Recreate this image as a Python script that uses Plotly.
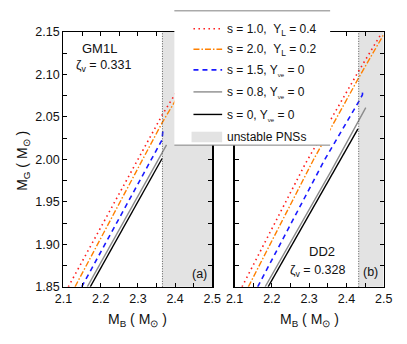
import plotly.graph_objects as go

W, H = 407, 344

# ---------------- data (M_B, M_G in solar masses) ----------------
# panel (a): GM1L
gm1l_s10_mb = [2.113, 2.288, 2.365, 2.440]
gm1l_s10_mg = [1.850, 1.990, 2.052, 2.105]
gm1l_s20_mb = [2.131, 2.365, 2.440]
gm1l_s20_mg = [1.850, 2.043, 2.098]
gm1l_s15_mb = [2.149, 2.365, 2.367]
gm1l_s15_mg = [1.850, 2.023, 2.033]
gm1l_s08_mb = [2.164, 2.377]
gm1l_s08_mg = [1.850, 2.017]
gm1l_s00_mb = [2.172, 2.365]
gm1l_s00_mg = [1.850, 2.001]
gm1l_unstable = [2.366, 2.5]

# panel (b): DD2
dd2_s10_mb = [2.120, 2.290, 2.433, 2.495]
dd2_s10_mg = [1.850, 1.995, 2.104, 2.149]
dd2_s20_mb = [2.137, 2.311, 2.433, 2.500]
dd2_s20_mg = [1.850, 1.999, 2.096, 2.147]
dd2_s15_mb = [2.162, 2.341, 2.433, 2.443, 2.444]
dd2_s15_mg = [1.850, 1.999, 2.068, 2.076, 2.083]
dd2_s08_mb = [2.182, 2.360, 2.452]
dd2_s08_mg = [1.850, 1.987, 2.061]
dd2_s00_mb = [2.190, 2.431]
dd2_s00_mg = [1.850, 2.036]
dd2_unstable = [2.433, 2.5]

series_labels = [
    "s = 1.0,  Y<sub>L</sub> = 0.4",
    "s = 2.0,  Y<sub>L</sub> = 0.2",
    "s = 1.5, Y<sub><span style='font-size:6px'>νe</span></sub> = 0",
    "s = 0.8, Y<sub><span style='font-size:6px'>νe</span></sub> = 0",
    "s = 0, Y<sub><span style='font-size:6px'>νe</span></sub> = 0",
]
shade_label = "unstable PNSs"
x_ticks = [2.1, 2.2, 2.3, 2.4, 2.5]
y_ticks = [1.85, 1.90, 1.95, 2.00, 2.05, 2.10, 2.15]

# ---------------- styles ----------------
styles = [
    dict(color="#ff1a1a", dash="1.5px,3.5px", width=1.6),
    dict(color="#ff8000", dash="6px,2px,1.5px,2px", width=1.4),
    dict(color="#1a1aff", dash="5px,4px", width=1.6),
    dict(color="#8c8c8c", dash="solid", width=1.4),
    dict(color="#000000", dash="solid", width=1.4),
]

FONT = "Liberation Sans, Arial, sans-serif"


def px(x):
    return x / W


def py(y):
    return 1 - y / H


fig = go.Figure()

panels = [
    ("x", "y", [(gm1l_s10_mb, gm1l_s10_mg), (gm1l_s20_mb, gm1l_s20_mg),
                (gm1l_s15_mb, gm1l_s15_mg), (gm1l_s08_mb, gm1l_s08_mg),
                (gm1l_s00_mb, gm1l_s00_mg)]),
    ("x2", "y2", [(dd2_s10_mb, dd2_s10_mg), (dd2_s20_mb, dd2_s20_mg),
                  (dd2_s15_mb, dd2_s15_mg), (dd2_s08_mb, dd2_s08_mg),
                  (dd2_s00_mb, dd2_s00_mg)]),
]
for xa, ya, sers in panels:
    for (mb, mg), st, lab in zip(sers, styles, series_labels):
        fig.add_trace(go.Scatter(x=mb, y=mg, mode="lines", name=lab,
                                 line=dict(color=st["color"], dash=st["dash"], width=st["width"]),
                                 xaxis=xa, yaxis=ya, showlegend=False, hoverinfo="skip"))

shapes = []
# unstable shaded regions
for xr, (u0, u1) in (("x", gm1l_unstable), ("x2", dd2_unstable)):
    shapes.append(dict(type="rect", xref=xr, yref=("y domain" if xr == "x" else "y2 domain"),
                       x0=u0, x1=u1, y0=0, y1=1, fillcolor="#e3e3e3",
                       line=dict(width=0), layer="below"))
    shapes.append(dict(type="line", xref=xr, yref=("y domain" if xr == "x" else "y2 domain"),
                       x0=u0, x1=u0, y0=0, y1=1,
                       line=dict(color="#555555", width=1, dash="1px,1.5px"), layer="above"))

# legend box (manual)
LX0, LX1, LY0, LY1 = 173, 336, 4, 144
shapes.append(dict(type="rect", xref="paper", yref="paper", x0=px(LX0), x1=px(LX1),
                   y0=py(LY1), y1=py(LY0), fillcolor="white", line=dict(width=0), layer="above"))
for yy in (LY0, LY1):
    shapes.append(dict(type="line", xref="paper", yref="paper", x0=px(LX0), x1=px(LX1),
                       y0=py(yy), y1=py(yy), line=dict(color="#808080", width=1), layer="above"))

row_y = [22.7, 44.0, 65.5, 88.5, 112.0]
annotations = []
for yy, st, lab in zip(row_y, styles, series_labels):
    shapes.append(dict(type="line", xref="paper", yref="paper", x0=px(193), x1=px(223),
                       y0=py(yy), y1=py(yy),
                       line=dict(color=st["color"], dash=st["dash"], width=st["width"]),
                       layer="above"))
    annotations.append(dict(text=lab, xref="paper", yref="paper", x=px(226), y=py(yy + 1),
                            xanchor="left", yanchor="middle", showarrow=False,
                            font=dict(family=FONT, size=12, color="#111111")))
shapes.append(dict(type="rect", xref="paper", yref="paper", x0=px(191), x1=px(223),
                   y0=py(141), y1=py(130), fillcolor="#e3e3e3", line=dict(width=0), layer="above"))
annotations.append(dict(text=shade_label, xref="paper", yref="paper", x=px(226), y=py(136),
                        xanchor="left", yanchor="middle", showarrow=False,
                        font=dict(family=FONT, size=12, color="#111111")))


def txt(t, x, y, size=12.5, angle=0):
    annotations.append(dict(text=t, xref="paper", yref="paper", x=px(x), y=py(y),
                            xanchor="center", yanchor="middle", showarrow=False,
                            textangle=angle, font=dict(family=FONT, size=size, color="#111111")))


txt("GM1L", 95, 43, size=13)
txt("ζ<sub>v</sub> = 0.331", 99, 62)
txt("(a)", 199, 278)
txt("DD2", 327, 255, size=13)
txt("ζ<sub>v</sub> = 0.328", 323, 275)
txt("(b)", 378, 276)
txt("M<sub>B</sub> ( M<sub>⊙</sub> )", 134, 326, size=14)
txt("M<sub>B</sub> ( M<sub>⊙</sub> )", 314, 326, size=14)
txt("M<sub>G</sub> ( M<sub>⊙</sub> )", 15, 160, size=14, angle=-90)

ax_common = dict(range=[2.1, 2.5], tickvals=x_ticks, ticktext=[f"{v:.1f}" for v in x_ticks],
                 ticks="inside", ticklen=4, tickwidth=1, tickcolor="black",
                 minor=dict(dtick=0.05, ticks="inside", ticklen=4, tickcolor="black"),
                 showline=True, linecolor="black", linewidth=1.3, mirror="ticks",
                 showgrid=False, zeroline=False,
                 tickfont=dict(family=FONT, size=12.5, color="#111111"))
ay_common = dict(range=[1.85, 2.15], tickvals=y_ticks,
                 ticks="inside", ticklen=4, tickwidth=1, tickcolor="black",
                 minor=dict(dtick=0.025, ticks="inside", ticklen=4, tickcolor="black"),
                 showline=True, linecolor="black", linewidth=1.3, mirror="ticks",
                 showgrid=False, zeroline=False,
                 tickfont=dict(family=FONT, size=12.5, color="#111111"))

ydom = [py(291.7), py(26)]
fig.update_layout(
    width=W, height=H, margin=dict(l=0, r=0, t=0, b=0),
    paper_bgcolor="white", plot_bgcolor="white",
    showlegend=False,
    xaxis=dict(domain=[px(57), px(212.7)], anchor="y", **ax_common),
    xaxis2=dict(domain=[px(236), px(392)], anchor="y2", **ax_common),
    yaxis=dict(domain=ydom, anchor="x",
               ticktext=[f"{v:.2f}" for v in y_ticks], **ay_common),
    yaxis2=dict(domain=ydom, anchor="x2", showticklabels=False, **ay_common),
    shapes=shapes, annotations=annotations,
)

post = (
    "document.documentElement.style.margin='0';"
    "document.documentElement.style.overflow='hidden';"
    "document.body.style.margin='0';document.body.style.padding='0';"
    "document.body.style.overflow='hidden';"
    "var d=document.getElementById('{plot_id}');"
    "d.style.position='fixed';d.style.left='0px';d.style.top='0px';"
)
fig.write_html("out.html", config={"displayModeBar": False, "staticPlot": True},
               post_script=post)
